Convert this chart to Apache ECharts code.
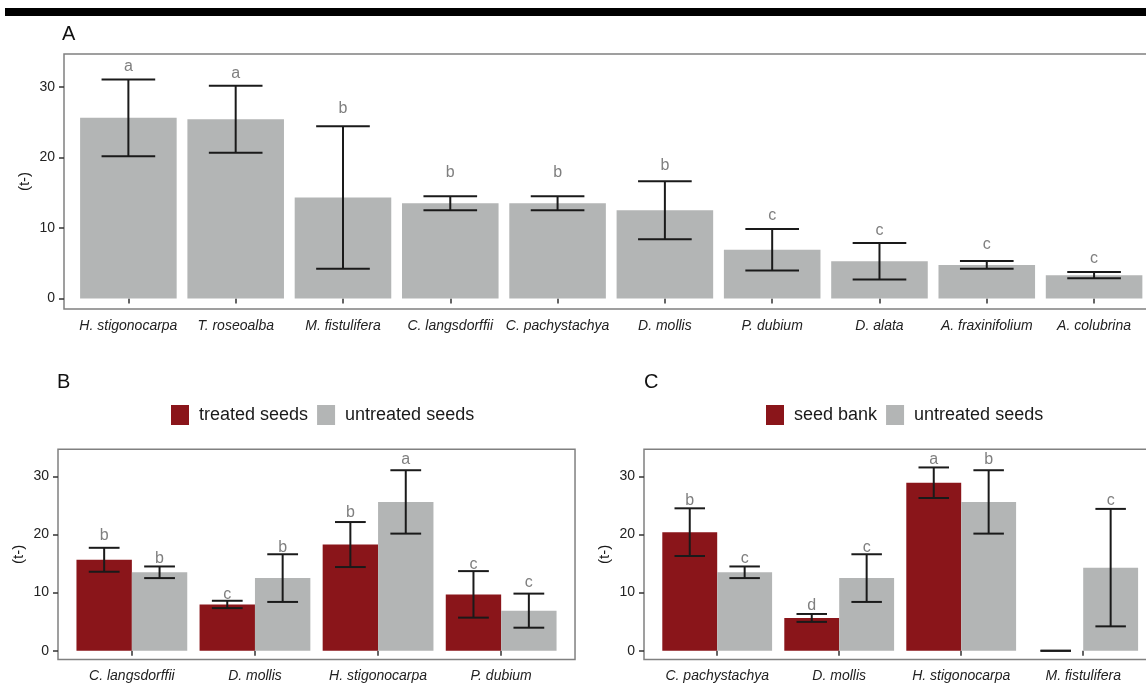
<!DOCTYPE html>
<html>
<head>
<meta charset="utf-8">
<script src="https://cdn.jsdelivr.net/npm/echarts@6/dist/echarts.min.js"></script>
<style>
  html, body { margin: 0; padding: 0; background: #fff; }
  #chart { width: 1146px; height: 684px; }
</style>
</head>
<body>
<div id="chart"></div>
<script>
// ---- Panel A: untreated seeds of ten species (mean ± sd) ----
const speciesA = ['H. stigonocarpa', 'T. roseoalba', 'M. fistulifera', 'C. langsdorffii', 'C. pachystachya',
                  'D. mollis', 'P. dubium', 'D. alata', 'A. fraxinifolium', 'A. colubrina'];
const meanA = [25.6, 25.4, 14.3, 13.5, 13.5, 12.5, 6.9, 5.27, 4.75, 3.3];
const sdA = [5.45, 4.75, 10.1, 1.0, 1.0, 4.1, 2.93, 2.58, 0.55, 0.43];
const lettersA = ['a', 'a', 'b', 'b', 'b', 'b', 'c', 'c', 'c', 'c'];
const letterYA = [32.85, 31.9, 26.95, 17.9, 17.9, 18.8, 11.7, 9.6, 7.7, 5.7];

// ---- Panel B: treated vs untreated seeds ----
const speciesB = ['C. langsdorffii', 'D. mollis', 'H. stigonocarpa', 'P. dubium'];
const treatedMeanB = [15.65, 7.97, 18.27, 9.7];
const treatedSdB = [2.06, 0.63, 3.87, 4.0];
const treatedLettersB = ['b', 'c', 'b', 'c'];
const treatedLetterYB = [19.8, 9.7, 23.8, 14.9];
const untreatedMeanB = [13.5, 12.5, 25.6, 6.9];
const untreatedSdB = [1.0, 4.1, 5.45, 2.93];
const untreatedLettersB = ['b', 'b', 'a', 'c'];
const untreatedLetterYB = [15.8, 17.8, 32.8, 11.7];

// ---- Panel C: seed bank vs untreated seeds ----
const speciesC = ['C. pachystachya', 'D. mollis', 'H. stigonocarpa', 'M. fistulifera'];
const bankMeanC = [20.4, 5.65, 28.9, 0];
const bankSdC = [4.1, 0.68, 2.63, 0];
const bankLettersC = ['b', 'd', 'a', ''];
const bankLetterYC = [25.9, 7.7, 32.8, null];
const untreatedMeanC = [13.5, 12.5, 25.6, 14.3];
const untreatedSdC = [1.0, 4.1, 5.45, 10.1];
const untreatedLettersC = ['c', 'c', 'b', 'c'];
const untreatedLetterYC = [15.8, 17.8, 32.8, 25.8];

const yTicks = [0, 10, 20, 30];
const Y_MIN = -1.5, Y_MAX = 34.65;

const FONT = '"Liberation Sans", Arial, Helvetica, sans-serif';
const RED = '#8a151a';
const GREY = '#b3b5b5';
const INK = '#1a1a1a';
const FRAME = '#808080';
const LETTER = '#7f7f7f';

// Panel geometry: frame position and the width of one category step
const panels = [
  { frameLeft: 64, top: 54, height: 255, step: 107.3, cats: speciesA },
  { frameLeft: 58, top: 449.3, height: 210.2, step: 123.1, cats: speciesB },
  { frameLeft: 644, top: 449.3, height: 210.2, step: 122, cats: speciesC }
];

const grid = [], xAxis = [], yAxis = [];
panels.forEach((p, k) => {
  const n = p.cats.length;
  // frame grid: the panel border, with the discrete axis padded by 0.6 step each side
  grid.push({ left: p.frameLeft, top: p.top, width: p.step * (n + 0.2), height: p.height,
              outerBoundsMode: 'none', containLabel: false,
              show: true, borderColor: FRAME, borderWidth: 1.5, backgroundColor: 'transparent' });
  // data grid: exactly n category bands
  grid.push({ left: p.frameLeft + 0.1 * p.step, top: p.top, width: p.step * n, height: p.height,
              outerBoundsMode: 'none', containLabel: false });
  xAxis.push({ gridIndex: 2 * k, type: 'value', show: false });
  yAxis.push({ gridIndex: 2 * k, type: 'value', show: false });
  xAxis.push({
    gridIndex: 2 * k + 1, type: 'category', data: p.cats,
    axisLine: { show: false },
    axisTick: { show: true, alignWithLabel: true, length: 5, lineStyle: { color: '#333', width: 1.5 } },
    axisLabel: { interval: 0, margin: 10, fontSize: 14, fontStyle: 'italic', color: '#222', fontFamily: FONT }
  });
  yAxis.push({
    gridIndex: 2 * k + 1, type: 'value', min: Y_MIN, max: Y_MAX,
    offset: 0.1 * p.step,
    axisLine: { show: false },
    splitLine: { show: false },
    axisTick: { show: true, length: 5, customValues: yTicks, lineStyle: { color: '#333', width: 1.5 } },
    axisLabel: { customValues: yTicks, margin: 9, fontSize: 14, color: '#222', fontFamily: FONT },
    name: '(t-)', nameLocation: 'middle', nameGap: 32, nameMoveOverlap: false,
    nameTextStyle: { fontSize: 15, color: INK, fontFamily: FONT }
  });
});

// Error bars (mean ± sd) with significance letters above them
function errorBars(name, axisIndex, means, sds, letters, letterY, shift, capFrac) {
  return {
    type: 'custom', name, xAxisIndex: axisIndex, yAxisIndex: axisIndex, z: 5,
    data: means.map((m, i) => [i, m - sds[i], m + sds[i]]),
    encode: { x: 0, y: [1, 2] },
    renderItem(params, api) {
      const i = api.value(0);
      const band = api.size([1, 0])[0];
      const x = api.coord([i, 0])[0] + shift * band;
      const yLo = api.coord([i, api.value(1)])[1];
      const yHi = api.coord([i, api.value(2)])[1];
      const h = capFrac * band / 2;
      const ls = { stroke: INK, lineWidth: 2 };
      const children = [
        { type: 'line', shape: { x1: x, y1: yHi, x2: x, y2: yLo }, style: ls },
        { type: 'line', shape: { x1: x - h, y1: yHi, x2: x + h, y2: yHi }, style: ls },
        { type: 'line', shape: { x1: x - h, y1: yLo, x2: x + h, y2: yLo }, style: ls }
      ];
      const letter = letters[params.dataIndex];
      const ly = letterY[params.dataIndex];
      if (letter && ly != null) {
        children.push({
          type: 'text',
          style: { x, y: api.coord([i, ly])[1], text: letter, fill: LETTER, fontSize: 16,
                   fontFamily: FONT, align: 'center', verticalAlign: 'middle' }
        });
      }
      return { type: 'group', children };
    }
  };
}

const series = [
  { type: 'bar', name: 'all species', xAxisIndex: 1, yAxisIndex: 1, data: meanA,
    barWidth: 0.9 * panels[0].step, itemStyle: { color: GREY } },
  errorBars('sd A', 1, meanA, sdA, lettersA, letterYA, 0, 0.5),

  { type: 'bar', name: 'treated seeds', xAxisIndex: 3, yAxisIndex: 3, data: treatedMeanB,
    barWidth: 0.45 * panels[1].step, barGap: '0%', itemStyle: { color: RED } },
  { type: 'bar', name: 'untreated seeds', xAxisIndex: 3, yAxisIndex: 3, data: untreatedMeanB,
    barWidth: 0.45 * panels[1].step, barGap: '0%', itemStyle: { color: GREY } },
  errorBars('sd B treated', 3, treatedMeanB, treatedSdB, treatedLettersB, treatedLetterYB, -0.225, 0.25),
  errorBars('sd B untreated', 3, untreatedMeanB, untreatedSdB, untreatedLettersB, untreatedLetterYB, 0.225, 0.25),

  { type: 'bar', name: 'seed bank', xAxisIndex: 5, yAxisIndex: 5, data: bankMeanC,
    barWidth: 0.45 * panels[2].step, barGap: '0%', itemStyle: { color: RED } },
  { type: 'bar', name: 'untreated seeds', xAxisIndex: 5, yAxisIndex: 5, data: untreatedMeanC,
    barWidth: 0.45 * panels[2].step, barGap: '0%', itemStyle: { color: GREY } },
  errorBars('sd C bank', 5, bankMeanC, bankSdC, bankLettersC, bankLetterYC, -0.225, 0.25),
  errorBars('sd C untreated', 5, untreatedMeanC, untreatedSdC, untreatedLettersC, untreatedLetterYC, 0.225, 0.25)
];

const legendBase = {
  orient: 'horizontal', top: 405, padding: 0, itemWidth: 18, itemHeight: 20, itemGap: 9,
  icon: 'rect', selectedMode: false,
  textStyle: { fontSize: 18, color: INK, fontFamily: FONT, padding: [0, 0, 0, 5] }
};

const titleStyle = { fontSize: 20, fontWeight: 'normal', color: '#111', fontFamily: FONT };

const option = {
  animation: false,
  backgroundColor: '#ffffff',
  title: [
    { text: 'A', left: 62, top: 24, padding: 0, textStyle: titleStyle },
    { text: 'B', left: 57, top: 372, padding: 0, textStyle: titleStyle },
    { text: 'C', left: 644, top: 372, padding: 0, textStyle: titleStyle }
  ],
  legend: [
    Object.assign({}, legendBase, { left: 171, data: ['treated seeds', 'untreated seeds'] }),
    Object.assign({}, legendBase, { left: 766, data: ['seed bank', 'untreated seeds'] })
  ],
  graphic: [
    { type: 'rect', left: 5, top: 8, shape: { width: 1141, height: 8 }, style: { fill: '#000' } }
  ],
  grid, xAxis, yAxis, series
};

const chart = echarts.init(document.getElementById('chart'), null, { renderer: 'canvas' });
chart.setOption(option);
</script>
</body>
</html>
